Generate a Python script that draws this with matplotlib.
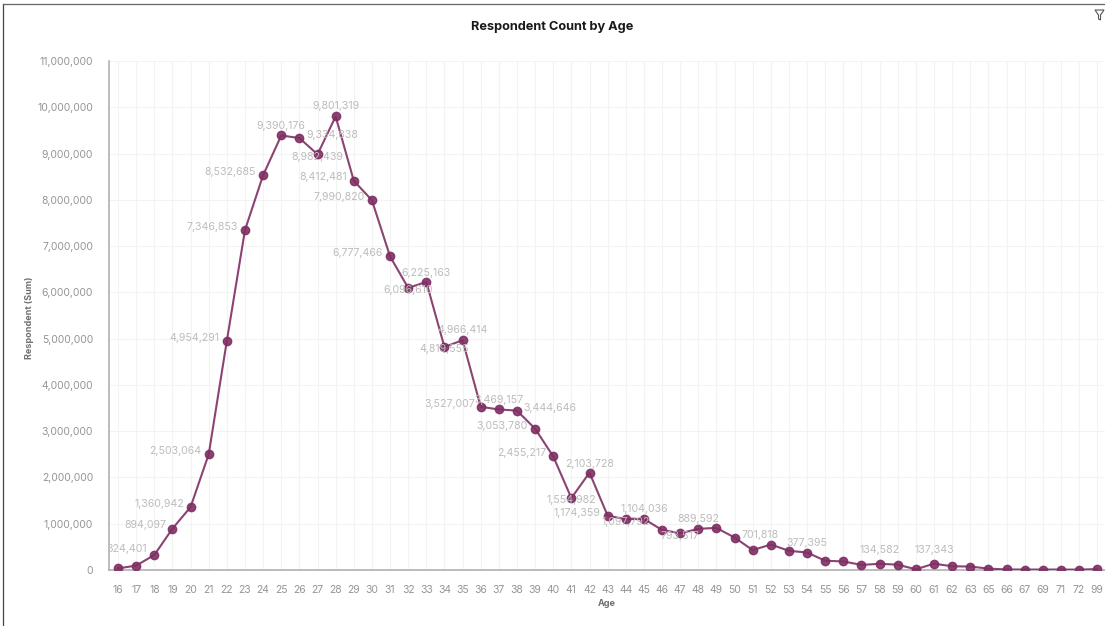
import matplotlib
matplotlib.use('Agg')
import matplotlib.pyplot as plt
from matplotlib.lines import Line2D
from matplotlib.patches import Polygon

W, H = 1105, 626

ages = ['16', '17', '18', '19', '20', '21', '22', '23', '24', '25', '26', '27', '28', '29',
        '30', '31', '32', '33', '34', '35', '36', '37', '38', '39', '40', '41', '42', '43',
        '44', '45', '46', '47', '48', '49', '50', '51', '52', '53', '54', '55', '56', '57',
        '58', '59', '60', '61', '62', '63', '65', '66', '67', '69', '71', '72', '99']
respondents = [35000, 95000, 324401, 894097, 1360942, 2503064, 4954291, 7346853, 8532685,
               9390176, 9334838, 8982439, 9801319, 8412481, 7990820, 6777466, 6096610,
               6225163, 4819555, 4966414, 3527007, 3469157, 3444646, 3053780, 2455217,
               1554982, 2103728, 1174359, 1097792, 1104036, 865000, 793517, 889592, 910000,
               701818, 430000, 550000, 415000, 377395, 200000, 185000, 110000, 134582,
               115000, 15000, 137343, 80000, 75000, 30000, 12000, 10000, 10000, 10000,
               8000, 20000]
y_ticks = list(range(0, 12000000, 1000000))

# label placement per age: dx, dy in pixels, horizontal alignment
label_pos = {
    '18': (-7, 6, 'right'), '19': (-6, 4, 'right'), '20': (-6, 3, 'right'),
    '21': (-7, 3, 'right'), '22': (-7, 3, 'right'), '23': (-7, 3, 'right'),
    '24': (-7, 3, 'right'), '25': (0, 9, 'center'), '26': (7, 3, 'left'),
    '27': (0, -3, 'center'), '28': (0, 10, 'center'), '29': (-7, 4, 'right'),
    '30': (-7, 3, 'right'), '31': (-7, 3, 'right'), '32': (0, -2, 'center'),
    '33': (0, 9, 'center'), '34': (0, -2, 'center'), '35': (0, 10, 'center'),
    '36': (-6, 3, 'right'), '37': (0, 9, 'center'), '38': (6, 3, 'left'),
    '39': (-7, 3, 'right'), '40': (-7, 3, 'right'), '41': (0, -2, 'center'),
    '42': (0, 9, 'center'), '43': (-7, 3, 'right'), '44': (0, -3, 'center'),
    '45': (0, 10, 'center'), '47': (0, -3, 'center'), '48': (0, 10, 'center'),
    '50': (7, 3, 'left'), '54': (0, 10, 'center'), '58': (0, 14, 'center'),
    '61': (0, 14, 'center'),
}

plt.rcParams['font.family'] = ['Inter', 'DejaVu Sans']

fig = plt.figure(figsize=(W / 100, H / 100), dpi=100)
ax = fig.add_axes([109 / W, 1 - 570 / H, (W - 109) / W, (570 - 61) / H])

x = list(range(len(ages)))
ax.plot(x, respondents, color='#7f2f63', lw=1.5, alpha=0.9, marker='o', ms=6,
        mfc='#7f2f63', mec='#7f2f63', zorder=3)

for i, age in enumerate(ages):
    if age in label_pos:
        dx, dy, ha = label_pos[age]
        ax.annotate(format(respondents[i], ','), (i, respondents[i]), xytext=(dx, dy),
                    textcoords='offset pixels', ha=ha, va='center', fontsize=7.6,
                    color='#bcbcbc', clip_on=True, zorder=4)

ax.set_xlim(-0.5, 54.43)
ax.set_ylim(0, 11000000)
ax.set_xticks(x)
ax.set_xticklabels(ages)
ax.set_yticks(y_ticks)
ax.set_yticklabels([format(v, ',') for v in y_ticks])
ax.tick_params(length=0, labelsize=7.5, labelcolor='#959595')
ax.tick_params(axis='x', pad=11)
ax.tick_params(axis='y', pad=11.5)
ax.grid(True, color='#f3f3f3', lw=0.8)
ax.set_axisbelow(True)

for side in ['top', 'right']:
    ax.spines[side].set_visible(False)
for side in ['left', 'bottom']:
    ax.spines[side].set_color('#b0b0b0')
    ax.spines[side].set_linewidth(1.2)

fig.text(552 / W, 1 - 27 / H, 'Respondent Count by Age', ha='center', va='center',
         fontsize=9.2, fontweight='bold', color='#1a1a1a')
fig.text(607 / W, 1 - 604 / H, 'Age', ha='center', va='center', fontsize=6.5,
         fontweight='bold', color='#707070')
fig.text(30 / W, 1 - 318 / H, 'Respondent (Sum)', ha='center', va='center', rotation=90,
         fontsize=6.5, fontweight='bold', color='#707070')

# window frame left over from the dashboard screenshot
fig.add_artist(Line2D([3 / W, 3 / W], [0, 1 - 4 / H], color='#444444', lw=0.9))
fig.add_artist(Line2D([3 / W, 1], [1 - 4 / H, 1 - 4 / H], color='#666666', lw=0.9))

# filter icon
icon = [(1095, 10), (1104, 10), (1100.5, 15), (1100.5, 20), (1098.5, 19), (1098.5, 15)]
fig.add_artist(Polygon([(a / W, 1 - b / H) for a, b in icon], closed=True, fill=False,
                       ec='#555555', lw=0.8, transform=fig.transFigure))

fig.savefig('out.png', dpi=100)
